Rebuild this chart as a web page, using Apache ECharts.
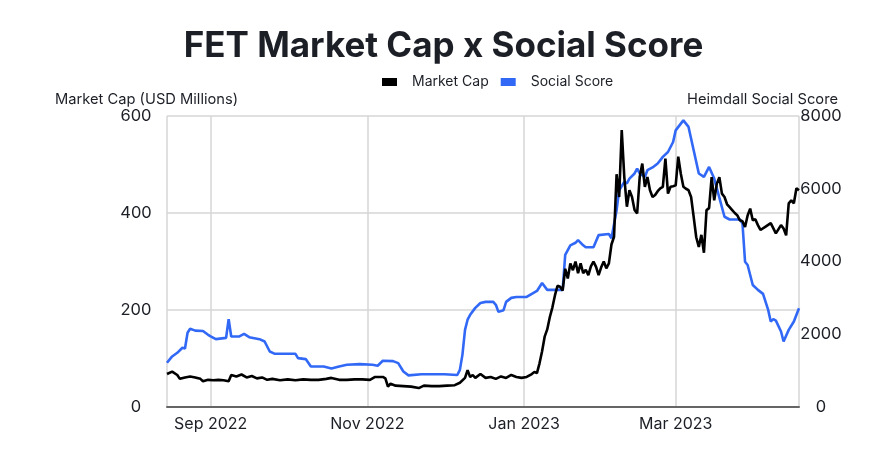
<!DOCTYPE html>
<html>
<head>
<meta charset="utf-8">
<script src="https://cdn.jsdelivr.net/npm/echarts@6/dist/echarts.min.js"></script>
<style>
html,body{margin:0;padding:0;background:#fff;}
#chart{width:887px;height:467px;}
</style>
</head>
<body>
<div id="chart"></div>
<script>
const titleText = 'FET Market Cap x Social Score';
const leftAxisName = 'Market Cap (USD Millions)';
const rightAxisName = 'Heimdall Social Score';
const seriesNames = ['Market Cap', 'Social Score'];
const leftTicks = [0, 200, 400, 600];
const rightTicks = [0, 2000, 4000, 6000, 8000];
const xStart = '2022-08-15';
const xEnd = '2023-04-18';
const monthNames = ['Jan','Feb','Mar','Apr','May','Jun','Jul','Aug','Sep','Oct','Nov','Dec'];

const mcDates = [
'2022-08-15','2022-08-17','2022-08-19','2022-08-20','2022-08-22','2022-08-24','2022-08-26','2022-08-28','2022-08-29','2022-08-31',
'2022-09-02','2022-09-04','2022-09-06','2022-09-08','2022-09-09','2022-09-11','2022-09-13','2022-09-15','2022-09-17','2022-09-19',
'2022-09-21','2022-09-23','2022-09-25','2022-09-28','2022-10-01','2022-10-04','2022-10-07','2022-10-10','2022-10-13','2022-10-16',
'2022-10-18','2022-10-21','2022-10-24','2022-10-27','2022-10-30','2022-11-02','2022-11-04','2022-11-07','2022-11-08','2022-11-09',
'2022-11-10','2022-11-12','2022-11-15','2022-11-18','2022-11-21','2022-11-23','2022-11-26','2022-11-29','2022-12-02','2022-12-05',
'2022-12-07','2022-12-09','2022-12-10','2022-12-11','2022-12-12','2022-12-13','2022-12-15','2022-12-17','2022-12-19','2022-12-21',
'2022-12-23','2022-12-25','2022-12-27','2022-12-29','2022-12-31','2023-01-02','2023-01-04','2023-01-05','2023-01-06','2023-01-07',
'2023-01-08','2023-01-09','2023-01-10','2023-01-11','2023-01-12','2023-01-13','2023-01-14','2023-01-15','2023-01-16','2023-01-17',
'2023-01-18','2023-01-19','2023-01-20','2023-01-21','2023-01-22','2023-01-23','2023-01-24','2023-01-25','2023-01-26','2023-01-27',
'2023-01-28','2023-01-29','2023-01-30','2023-01-31','2023-02-01','2023-02-02','2023-02-03','2023-02-04','2023-02-05','2023-02-06',
'2023-02-07','2023-02-08','2023-02-09','2023-02-10','2023-02-11','2023-02-12','2023-02-13','2023-02-14','2023-02-15','2023-02-16',
'2023-02-17','2023-02-18','2023-02-19','2023-02-20','2023-02-21','2023-02-22','2023-02-23','2023-02-24','2023-02-25','2023-02-26',
'2023-02-27','2023-02-28','2023-03-01','2023-03-02','2023-03-03','2023-03-04','2023-03-05','2023-03-06','2023-03-07','2023-03-08',
'2023-03-09','2023-03-10','2023-03-11','2023-03-12','2023-03-13','2023-03-14','2023-03-15','2023-03-16','2023-03-17','2023-03-18',
'2023-03-19','2023-03-20','2023-03-21','2023-03-22','2023-03-23','2023-03-24','2023-03-25','2023-03-26','2023-03-27','2023-03-28',
'2023-03-29','2023-03-30','2023-03-31','2023-04-01','2023-04-02','2023-04-03','2023-04-05','2023-04-07','2023-04-09','2023-04-11',
'2023-04-12','2023-04-13','2023-04-14','2023-04-15','2023-04-16','2023-04-17','2023-04-18'
];
const mcValues = [
68,73,66,58,61,63,61,58,53,56,
55,56,55,53,66,63,67,61,64,59,
61,56,58,55,57,55,57,56,56,58,
60,56,56,57,57,56,62,62,59,42,
48,44,43,42,39,44,43,43,44,45,
50,60,76,62,66,60,68,60,62,58,
63,60,66,62,60,62,68,72,70,90,
115,145,160,185,205,230,250,248,240,285,
265,296,282,300,276,296,276,283,272,290,
300,289,272,288,300,286,296,335,351,480,
433,571,474,413,447,433,406,399,474,502,
454,474,447,433,437,445,451,454,512,440,
454,455,457,516,481,454,450,447,433,392,
350,330,355,318,406,410,474,426,460,474,
440,433,418,412,406,400,395,385,383,371,
395,409,385,387,375,365,372,379,358,375,
368,354,420,426,420,451,447
];

const ssDates = [
'2022-08-15','2022-08-17','2022-08-19','2022-08-21','2022-08-22','2022-08-23','2022-08-24','2022-08-26','2022-08-29','2022-08-31',
'2022-09-01','2022-09-03','2022-09-07','2022-09-08','2022-09-09','2022-09-12','2022-09-14','2022-09-16','2022-09-20','2022-09-22',
'2022-09-24','2022-09-26','2022-10-04','2022-10-05','2022-10-08','2022-10-10','2022-10-15','2022-10-18','2022-10-21','2022-10-24',
'2022-10-29','2022-11-03','2022-11-05','2022-11-07','2022-11-11','2022-11-13','2022-11-15','2022-11-17','2022-11-22','2022-12-01',
'2022-12-06','2022-12-07','2022-12-08','2022-12-09','2022-12-10','2022-12-11','2022-12-13','2022-12-15','2022-12-17','2022-12-20',
'2022-12-21','2022-12-22','2022-12-24','2022-12-25','2022-12-27','2022-12-29','2023-01-02','2023-01-04','2023-01-06','2023-01-08',
'2023-01-10','2023-01-16','2023-01-17','2023-01-19','2023-01-21','2023-01-22','2023-01-24','2023-01-25','2023-01-28','2023-01-30',
'2023-02-03','2023-02-04','2023-02-06','2023-02-07','2023-02-09','2023-02-10','2023-02-11','2023-02-13','2023-02-14','2023-02-15',
'2023-02-17','2023-02-18','2023-02-20','2023-02-22','2023-02-24','2023-02-26','2023-02-28','2023-03-01','2023-03-03','2023-03-04',
'2023-03-05','2023-03-06','2023-03-08','2023-03-10','2023-03-12','2023-03-14','2023-03-16','2023-03-20','2023-03-22','2023-03-26',
'2023-03-27','2023-03-28','2023-03-29','2023-03-31','2023-04-02','2023-04-04','2023-04-06','2023-04-07','2023-04-08','2023-04-09',
'2023-04-11','2023-04-12','2023-04-14','2023-04-16','2023-04-18'
];
const ssValues = [
1215,1390,1490,1630,1610,2040,2150,2100,2090,1985,
1940,1865,1900,2415,1937,1937,2010,1920,1865,1800,
1525,1462,1462,1344,1317,1114,1114,1059,1114,1160,
1180,1160,1133,1270,1262,1207,976,870,900,900,
880,1020,1440,2120,2400,2535,2725,2860,2890,2890,
2810,2615,2660,2890,3000,3025,3025,3110,3190,3410,
3220,3220,4180,4445,4515,4590,4445,4390,4390,4725,
4755,4640,5410,5960,6190,6145,6280,6420,6555,6420,
6325,6510,6585,6695,6875,7010,7285,7605,7790,7880,
7790,7700,7060,6420,6325,6600,6280,5230,5155,5155,
5045,3995,3905,3355,3220,3110,2670,2350,2415,2375,
2075,1800,2120,2350,2715
];

const FONT = 'Inter';
const TEXT = '#1c1f26';

const chart = echarts.init(document.getElementById('chart'), null, {renderer: 'canvas'});

chart.setOption({
  animation: false,
  backgroundColor: '#ffffff',
  textStyle: {fontFamily: FONT},
  title: [
    {text: titleText, left: 'center', top: 24,
     textStyle: {fontFamily: FONT, fontWeight: 'bold', fontSize: 35, color: TEXT}},
    {text: leftAxisName, left: 50, top: 87,
     textStyle: {fontFamily: FONT, fontWeight: 'normal', fontSize: 14.7, color: TEXT}},
    {text: rightAxisName, right: 44, top: 87,
     textStyle: {fontFamily: FONT, fontWeight: 'normal', fontSize: 14.7, color: TEXT}}
  ],
  legend: {
    top: 70, left: 377,
    itemWidth: 15, itemHeight: 8, itemGap: 12,
    icon: 'rect',
    textStyle: {fontFamily: FONT, fontSize: 14, color: TEXT, padding: [0, 0, 0, 10]},
    data: seriesNames
  },
  grid: {left: 167, right: 88, top: 116, bottom: 60, containLabel: false},
  xAxis: {
    type: 'time',
    min: xStart, max: xEnd,
    splitNumber: 3,
    axisLine: {show: true, lineStyle: {color: '#666666', width: 2}},
    axisTick: {show: false},
    splitLine: {show: true, lineStyle: {color: '#d6d6d6', width: 1.5}},
    axisLabel: {
      showMinLabel: false, showMaxLabel: false,
      fontFamily: FONT, fontSize: 16, fontWeight: 'normal', color: TEXT, margin: 9,
      formatter: function (v) {
        const d = new Date(v);
        return monthNames[d.getMonth()] + ' ' + d.getFullYear();
      }
    }
  },
  yAxis: [
    {type: 'value', min: leftTicks[0], max: leftTicks[leftTicks.length - 1], interval: leftTicks[1] - leftTicks[0],
     axisLine: {show: false}, axisTick: {show: false},
     splitLine: {show: true, lineStyle: {color: '#d6d6d6', width: 1.5}},
     axisLabel: {fontFamily: FONT, fontSize: 16.5, color: TEXT, margin: 31, align: 'center',
                 formatter: v => String(v)}},
    {type: 'value', min: rightTicks[0], max: rightTicks[rightTicks.length - 1], interval: rightTicks[1] - rightTicks[0],
     axisLine: {show: false}, axisTick: {show: false}, splitLine: {show: false},
     axisLabel: {fontFamily: FONT, fontSize: 16.5, color: TEXT, margin: 22, align: 'center',
                 formatter: v => String(v)}}
  ],
  series: [
    {name: seriesNames[0], type: 'line', yAxisIndex: 0, showSymbol: false, symbol: 'none',
     color: '#000000', lineStyle: {width: 2.6, color: '#000000'}, z: 3,
     data: mcDates.map((d, i) => [d, mcValues[i]])},
    {name: seriesNames[1], type: 'line', yAxisIndex: 1, showSymbol: false, symbol: 'none',
     color: '#3168f5', lineStyle: {width: 2.6, color: '#3168f5'}, z: 2,
     data: ssDates.map((d, i) => [d, ssValues[i]])}
  ]
});
</script>
</body>
</html>
